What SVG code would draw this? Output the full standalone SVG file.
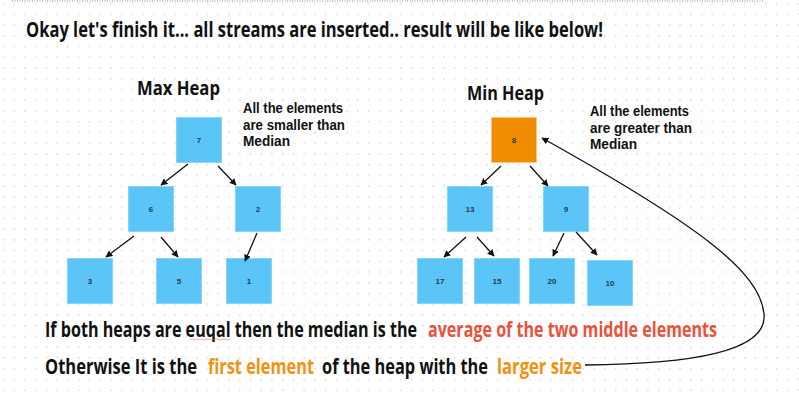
<svg xmlns="http://www.w3.org/2000/svg" width="799" height="400" viewBox="0 0 799 400">
<defs>
<pattern id="grid" x="2.7" y="2.7" width="10.74" height="10.74" patternUnits="userSpaceOnUse">
<circle cx="0.8" cy="0.8" r="0.85" fill="#d9d9d9"/>
</pattern>
<marker id="arr" viewBox="0 0 10 10" refX="9" refY="5" markerWidth="7" markerHeight="7" markerUnits="userSpaceOnUse" orient="auto">
<path d="M0,0 L10,5 L0,10 z" fill="#111"/>
</marker>
<style>
.hand{font-family:"Open Sans","Noto Sans",sans-serif;font-weight:700;fill:#111}
.t{font-size:22px}
.h{font-size:20px}
.n{font-family:"Liberation Sans",Arial,sans-serif;font-size:14px;font-weight:bold;fill:#111}
.b{font-size:16px}
.red{fill:#e9523c}
.org{fill:#f29111}
.blue{fill:#5bc5f7;stroke:#86d5fa;stroke-width:1}
.orange{fill:#f08c00;stroke:#ffc47a;stroke-width:1}
.lbl{font-family:"Liberation Sans",Arial,sans-serif;font-size:8px;font-weight:bold;fill:#2a3a48;text-anchor:middle}
.edge{stroke:#111;stroke-width:1.3;fill:none;marker-end:url(#arr)}
</style>
</defs>
<rect width="799" height="400" fill="#fff"/>
<rect width="799" height="400" fill="url(#grid)"/>
<line x1="12" y1="1" x2="763" y2="1" stroke="#888" stroke-width="1" stroke-dasharray="1,1.5"/>

<text class="hand t" x="26" y="37" textLength="577" lengthAdjust="spacingAndGlyphs">Okay let's finish it... all streams are inserted.. result will be like below!</text>

<g id="maxheap-title">
<text class="hand h" x="137" y="95" textLength="83" lengthAdjust="spacingAndGlyphs">Max Heap</text>
</g>
<g id="maxheap-note">
<text class="n" x="243" y="113" textLength="100" lengthAdjust="spacingAndGlyphs">All the elements</text>
<text class="n" x="243" y="130" textLength="102" lengthAdjust="spacingAndGlyphs">are smaller than</text>
<text class="n" x="243" y="146" textLength="47" lengthAdjust="spacingAndGlyphs">Median</text>
</g>
<g id="minheap-title">
<text class="hand h" x="467" y="100" textLength="77" lengthAdjust="spacingAndGlyphs">Min Heap</text>
</g>
<g id="minheap-note">
<text class="n" x="590" y="116" textLength="99" lengthAdjust="spacingAndGlyphs">All the elements</text>
<text class="n" x="590" y="133" textLength="102" lengthAdjust="spacingAndGlyphs">are greater than</text>
<text class="n" x="590" y="149" textLength="47" lengthAdjust="spacingAndGlyphs">Median</text>
</g>

<g id="n7"><rect class="blue" x="176.5" y="117.5" width="45" height="45"/><text class="lbl" x="199" y="143">7</text></g>
<g id="n6"><rect class="blue" x="128.5" y="186.5" width="45" height="45"/><text class="lbl" x="151" y="212">6</text></g>
<g id="n2"><rect class="blue" x="235.5" y="186.5" width="45" height="45"/><text class="lbl" x="258" y="212">2</text></g>
<g id="n3"><rect class="blue" x="67.5" y="258.5" width="45" height="45"/><text class="lbl" x="90" y="284">3</text></g>
<g id="n5"><rect class="blue" x="156.5" y="258.5" width="45" height="45"/><text class="lbl" x="179" y="284">5</text></g>
<g id="n1"><rect class="blue" x="226.5" y="258.5" width="45" height="45"/><text class="lbl" x="249" y="284">1</text></g>

<g id="n8"><rect class="orange" x="491.5" y="117.5" width="45" height="45"/><text class="lbl" x="514" y="143">8</text></g>
<g id="n13"><rect class="blue" x="447.5" y="186.5" width="45" height="45"/><text class="lbl" x="470" y="212">13</text></g>
<g id="n9"><rect class="blue" x="543.5" y="186.5" width="45" height="45"/><text class="lbl" x="566" y="212">9</text></g>
<g id="n17"><rect class="blue" x="417.5" y="258.5" width="45" height="45"/><text class="lbl" x="440" y="284">17</text></g>
<g id="n15"><rect class="blue" x="474.5" y="258.5" width="45" height="45"/><text class="lbl" x="497" y="284">15</text></g>
<g id="n20"><rect class="blue" x="529.5" y="258.5" width="45" height="45"/><text class="lbl" x="552" y="284">20</text></g>
<g id="n10"><rect class="blue" x="587.5" y="260.5" width="45" height="45"/><text class="lbl" x="610" y="286">10</text></g>

<g id="connectors">
<line class="edge" x1="188" y1="164" x2="161" y2="185"/>
<line class="edge" x1="218" y1="166" x2="236" y2="185"/>
<line class="edge" x1="134" y1="236" x2="106" y2="257"/>
<line class="edge" x1="161" y1="237" x2="178" y2="257"/>
<line class="edge" x1="257" y1="233" x2="245" y2="261"/>
<line class="edge" x1="501" y1="166" x2="481" y2="185"/>
<line class="edge" x1="530" y1="166" x2="548" y2="186"/>
<line class="edge" x1="466" y1="237" x2="444" y2="257"/>
<line class="edge" x1="477" y1="237" x2="494" y2="256"/>
<line class="edge" x1="564" y1="233" x2="553" y2="256"/>
<line class="edge" x1="576" y1="232" x2="597" y2="255"/>
<path class="edge" d="M585,365 C690,364 768,352 764,314 C760,272 700,226 542,138"/>
</g>

<g id="bottom-text">
<text class="hand b" transform="translate(45,337) scale(1,1.3)" x="0" y="0" textLength="372" lengthAdjust="spacingAndGlyphs">If both heaps are euqal then the median is the</text>
<text class="hand b red" transform="translate(428,337) scale(1,1.3)" x="0" y="0" textLength="289" lengthAdjust="spacingAndGlyphs">average of the two middle elements</text>
<path d="M190,339.5 q2,-1 4,0 t4,0 t4,0 t4,0 t4,0 t4,0 t4,0 t4,0 t4,0 t4,0" stroke="#e66" stroke-width="0.6" fill="none"/>
<text class="hand b" transform="translate(45,374) scale(1,1.3)" x="0" y="0" textLength="152" lengthAdjust="spacingAndGlyphs">Otherwise It is the</text>
<text class="hand b org" transform="translate(208,374) scale(1,1.3)" x="0" y="0" textLength="106" lengthAdjust="spacingAndGlyphs">first element</text>
<text class="hand b" transform="translate(322,374) scale(1,1.3)" x="0" y="0" textLength="166" lengthAdjust="spacingAndGlyphs">of the heap with the</text>
<text class="hand b org" transform="translate(497,374) scale(1,1.3)" x="0" y="0" textLength="85" lengthAdjust="spacingAndGlyphs">larger size</text>
</g>
</svg>
